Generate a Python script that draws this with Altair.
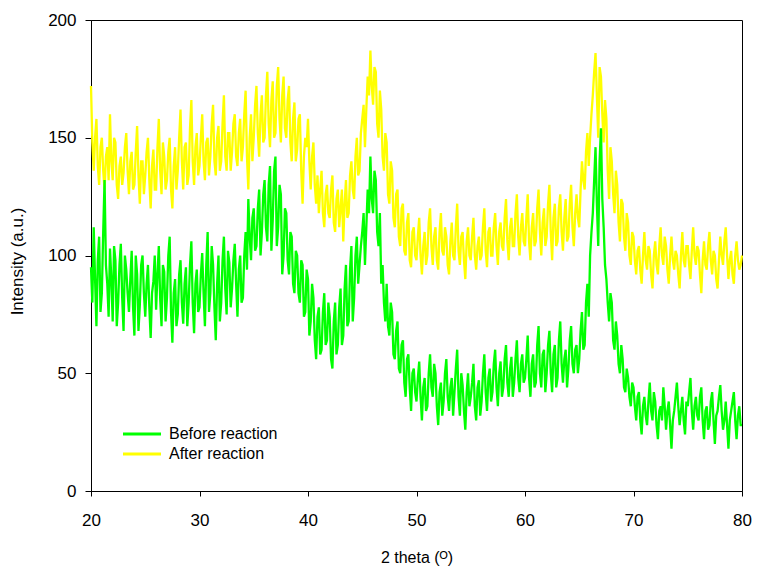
import altair as alt
import pandas as pd

# 2 theta values read at 0.25 degree steps (20.00, 20.25, ... 80.00)
before_main = [
    95, 112, 70, 108, 84, 132, 88, 103, 72, 98, 80, 105, 68, 94, 76, 102, 66, 92, 79, 100,
    74, 96, 65, 89, 77, 104, 70, 93, 82, 108, 63, 90, 75, 98, 71, 95, 80, 106, 67, 94,
    78, 101, 70, 110, 84, 96, 64, 100, 80, 108, 75, 97, 86, 105, 74, 100, 82, 110, 124, 98,
    120, 104, 128, 110, 132, 106, 138, 115, 142, 112, 126, 100, 118, 92, 108, 84, 100, 80, 96, 76,
    90, 72, 82, 56, 78, 60, 84, 64, 74, 52, 80, 62, 86, 66, 96, 72, 104, 82, 108, 96,
    110, 96, 128, 142, 118, 132, 104, 88, 80, 88, 66, 76, 56, 72, 50, 64, 40, 58, 34, 52,
    38, 55, 30, 48, 36, 58, 40, 50, 28, 46, 38, 56, 34, 48, 42, 60, 32, 45, 26, 50,
    40, 54, 30, 47, 38, 58, 34, 52, 42, 60, 36, 55, 44, 62, 40, 57, 46, 64, 42, 58,
    48, 66, 40, 58, 46, 70, 44, 60, 50, 68, 42, 62, 48, 72, 46, 60, 52, 70, 50, 62,
    56, 76, 62, 88, 100, 118, 146, 104, 154, 112, 90, 72, 80, 60, 66, 50, 56, 42, 48, 36,
    44, 30, 42, 24, 40, 28, 46, 30, 38, 22, 36, 44, 26, 38, 18, 34, 46, 28, 40, 24,
    36, 48, 26, 40, 30, 44, 22, 36, 28, 42, 20, 34, 45, 26, 38, 18, 34, 42, 22, 36,
    28,
]
# values read between those steps (20.125, 20.375, ... 79.875)
before_mid = [
    80, 90, 98, 76, 110, 96, 74, 90, 104, 70, 96, 82, 100, 84, 90, 78, 100, 68, 96, 84,
    88, 78, 84, 100, 92, 82, 96, 72, 100, 76, 84, 70, 92, 80, 88, 70, 96, 80, 88, 76,
    92, 84, 96, 76, 104, 78, 88, 72, 98, 86, 102, 78, 98, 88, 94, 80, 100, 94, 108, 116,
    102, 120, 100, 126, 112, 130, 102, 136, 104, 130, 92, 120, 98, 110, 88, 102, 84, 98, 74, 94,
    66, 88, 64, 74, 58, 76, 62, 80, 56, 72, 58, 78, 62, 86, 70, 94, 72, 100, 88, 104,
    118, 112, 118, 124, 136, 110, 118, 96, 72, 70, 80, 58, 68, 52, 62, 46, 56, 44, 50, 42,
    48, 40, 44, 34, 50, 44, 54, 36, 42, 32, 50, 40, 44, 32, 52, 40, 50, 34, 42, 36,
    46, 36, 44, 32, 50, 42, 48, 38, 54, 44, 50, 40, 56, 46, 52, 40, 56, 48, 54, 46,
    56, 48, 54, 44, 62, 50, 58, 42, 62, 50, 58, 44, 64, 54, 56, 44, 64, 54, 60, 50,
    68, 60, 80, 74, 110, 132, 122, 140, 124, 96, 80, 84, 64, 72, 54, 62, 44, 52, 40, 46,
    36, 40, 30, 36, 32, 38, 34, 42, 28, 34, 30, 36, 34, 28, 30, 40, 36, 34, 30, 38,
    42, 34, 36, 32, 40, 30, 34, 26, 38, 30, 32, 40, 34, 30, 28, 30, 38, 30, 32, 28,
]

after_main = [
    172, 136, 158, 130, 150, 128, 146, 160, 132, 148, 124, 142, 135, 152, 126, 144, 130, 155, 122, 140,
    134, 150, 120, 145, 128, 158, 126, 142, 132, 150, 120, 146, 136, 162, 128, 148, 134, 166, 130, 152,
    138, 160, 132, 150, 142, 164, 134, 155, 140, 168, 136, 152, 144, 160, 138, 158, 146, 170, 128, 160,
    150, 172, 142, 168, 150, 178, 146, 174, 152, 180, 148, 176, 150, 172, 140, 165, 145, 160, 122, 150,
    158, 128, 148, 122, 118, 136, 112, 130, 116, 134, 110, 128, 120, 106, 132, 118, 140, 124, 150, 136,
    158, 146, 176, 187, 164, 178, 150, 162, 136, 148, 122, 136, 112, 128, 104, 122, 100, 118, 95, 112,
    98, 116, 92, 110, 100, 120, 96, 112, 94, 118, 100, 108, 92, 114, 98, 122, 96, 110, 90, 112,
    98, 116, 94, 108, 100, 120, 95, 112, 100, 118, 96, 114, 102, 124, 98, 116, 104, 126, 100, 118,
    104, 126, 98, 118, 106, 128, 100, 120, 108, 130, 98, 122, 106, 126, 102, 124, 108, 130, 104, 126,
    112, 140, 128, 152, 150, 168, 186, 150, 176, 148, 158, 124, 140, 118, 130, 106, 122, 102, 114, 96,
    108, 92, 104, 88, 110, 94, 102, 86, 106, 92, 112, 96, 104, 88, 108, 94, 100, 86, 110, 95,
    104, 90, 112, 96, 102, 84, 106, 94, 110, 92, 100, 86, 108, 96, 112, 90, 102, 88, 106, 94,
    100,
]
after_mid = [
    148, 150, 138, 146, 136, 142, 132, 140, 150, 130, 138, 130, 146, 136, 140, 128, 144, 134, 140, 126,
    144, 132, 138, 128, 146, 136, 148, 128, 144, 128, 138, 128, 150, 140, 146, 130, 154, 140, 146, 134,
    150, 140, 148, 134, 156, 140, 150, 136, 156, 142, 152, 136, 156, 142, 152, 140, 160, 142, 150, 140,
    164, 152, 160, 148, 168, 156, 166, 150, 172, 158, 168, 154, 166, 148, 158, 140, 158, 136, 142, 146,
    140, 142, 130, 134, 128, 118, 126, 118, 128, 114, 124, 112, 128, 122, 116, 134, 128, 142, 134, 152,
    164, 162, 168, 172, 180, 156, 170, 142, 152, 126, 140, 116, 126, 108, 120, 102, 114, 98, 110, 100,
    108, 100, 104, 96, 114, 104, 108, 98, 110, 102, 112, 96, 106, 100, 112, 102, 108, 98, 106, 100,
    108, 100, 104, 98, 112, 102, 110, 100, 112, 104, 110, 104, 116, 106, 112, 104, 118, 108, 112, 106,
    116, 106, 112, 104, 120, 110, 114, 104, 122, 110, 116, 104, 120, 110, 116, 106, 122, 112, 118, 116,
    128, 132, 144, 138, 160, 178, 168, 180, 160, 166, 136, 146, 126, 136, 114, 124, 108, 118, 100, 110,
    98, 102, 94, 100, 98, 104, 92, 100, 96, 104, 100, 108, 94, 100, 98, 102, 92, 100, 98, 104,
    96, 102, 100, 104, 92, 98, 96, 104, 98, 102, 90, 98, 100, 106, 100, 98, 92, 100, 98, 96,
]

series_names = ["Before reaction", "After reaction"]
series_colors = ["#00FF00", "#FFFF00"]
x_ticks = [20, 30, 40, 50, 60, 70, 80]
y_ticks = [0, 50, 100, 150, 200]


def build(main, mid, name):
    xs, ys = [], []
    for i, v in enumerate(main):
        xs.append(20 + 0.25 * i)
        ys.append(v)
        if i < len(mid):
            xs.append(20.125 + 0.25 * i)
            ys.append(mid[i])
    return pd.DataFrame({"x": xs, "y": ys, "series": name})


df_before = build(before_main, before_mid, series_names[0])
df_after = build(after_main, after_mid, series_names[1])

PLOT_W = 651

x_enc = alt.X(
    "x:Q",
    scale=alt.Scale(domain=[20, 80], nice=False),
    axis=alt.Axis(
        values=x_ticks,
        title="2 theta (ᴼ)",
        titleX=PLOT_W / 2,
        titleY=71,
        titleBaseline="alphabetic",
        titleAlign="center",
        labelPadding=16,
        labelFlush=False,
        tickSize=5,
        labelFontSize=17,
    ),
)
y_enc = alt.Y(
    "y:Q",
    scale=alt.Scale(domain=[0, 200], nice=False),
    axis=alt.Axis(
        values=y_ticks,
        title="Intensity (a.u.)",
        titleX=-69,
        titleY=241,
        titleAngle=270,
        titleBaseline="alphabetic",
        titleAlign="center",
        titleFontSize=17,
        labelPadding=9,
        labelFlush=False,
        tickSize=6,
        labelFontSize=17,
    ),
)
color_enc = alt.Color(
    "series:N",
    scale=alt.Scale(domain=series_names, range=series_colors),
    legend=alt.Legend(
        title=None,
        orient="none",
        legendX=43,
        legendY=406,
        symbolType="M-3.8,0H3.8",
        symbolSize=100,
        symbolStrokeWidth=3,
        labelOffset=19,
        labelFontSize=16,
        labelColor="#000000",
        labelFont="Liberation Sans",
        rowPadding=4,
        padding=0,
    ),
)

after_layer = alt.Chart(df_after).mark_line(strokeWidth=2.3).encode(
    x=x_enc, y=y_enc, color=color_enc
)
before_layer = alt.Chart(df_before).mark_line(strokeWidth=2.3).encode(
    x=x_enc, y=y_enc, color=color_enc
)

chart = (
    alt.layer(after_layer, before_layer)
    .properties(
        width=PLOT_W,
        height=471,
        autosize=alt.AutoSizeParams(type="none"),
        padding={"left": 83, "top": 12, "right": 10, "bottom": 76},
        background="#FFFFFF",
    )
    .configure_view(stroke="#000000", strokeWidth=1)
    .configure_axis(
        grid=False,
        domainColor="#000000",
        domainWidth=1,
        tickColor="#000000",
        tickWidth=1,
        labelColor="#000000",
        titleColor="#000000",
        labelFont="Liberation Sans",
        titleFont="Liberation Sans",
        titleFontSize=16,
        titleFontWeight="normal",
    )
)

chart.save("out.html", embed_options={"renderer": "svg", "actions": False})
